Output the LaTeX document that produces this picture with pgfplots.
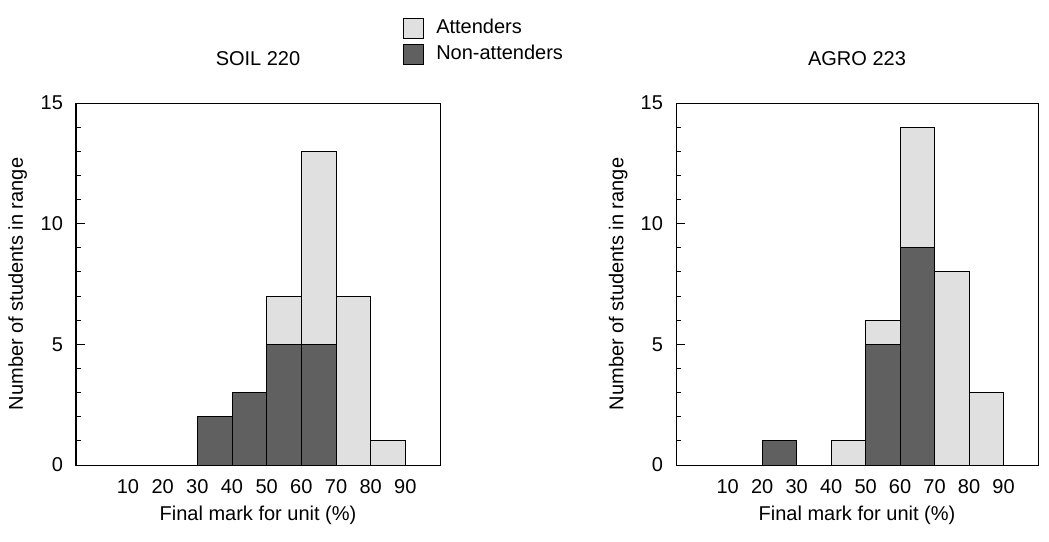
\documentclass[border=0pt]{standalone}
\usepackage{fontspec}
\setmainfont{Liberation Sans}
\usepackage{pgfplots}
\pgfplotsset{compat=1.18}
\definecolor{darkbar}{RGB}{96,96,96}
\definecolor{lightbar}{RGB}{224,224,224}
\pgfplotsset{
  histo/.style={
    scale only axis,
    height=181pt,
    ymin=0, ymax=15,
    xmin=-5, xmax=100,
    ybar stacked,
    bar width=10,
    bar shift=0pt,
    ytick={0,5,10,15},
    minor ytick={1,2,3,4,6,7,8,9,11,12,13,14},
    ytick pos=left,
    xtick={10,20,30,40,50,60,70,80,90},
    xtick style={draw=none},
    major tick length=4.5pt,
    minor tick length=2.5pt,
    tick style={black, line width=0.5pt},
    axis line style={line width=0.5pt},
    /pgf/number format/assume math mode=true,
    tick label style={font=\fontsize{10}{12}\selectfont},
    label style={font=\fontsize{10}{12}\selectfont},
    yticklabel style={xshift=-3pt},
    xticklabel style={yshift=-3.8pt},
    ylabel style={at={(axis description cs:-0.16,0.5)}, anchor=center},
    xlabel style={at={(axis description cs:0.5,-0.138)}, anchor=center},
    every axis title/.style={at={(axis description cs:0.5,1.1215)}, anchor=center, font=\fontsize{10}{12}\selectfont},
    ylabel={Number of students in range},
    xlabel={Final mark for unit (\%)},
    every axis plot/.append style={line width=0.5pt, draw=black},
  }
}
\begin{document}
\begin{tikzpicture}
\useasboundingbox (0,0) rectangle (524.5pt,-270.5pt);
\begin{axis}[histo,
  width=182pt,
  at={(38pt,-232.5pt)}, anchor=south west,
  title={SOIL 220},
  legend style={at={(axis description cs:0.898,1.243)}, anchor=north west,
    draw=none, fill=none, inner sep=0pt, row sep=0pt,
    font=\fontsize{10}{12}\selectfont,
    nodes={inner sep=2pt, text height=7.2pt, text depth=1.8pt},
    /tikz/every odd column/.append style={column sep=4pt}},
  legend cell align=left,
  legend image code/.code={\draw[#1, line width=0.5pt] (0pt,-5pt) rectangle (10pt,5pt);},
]
\addplot[fill=darkbar, forget plot] coordinates {(5,0) (15,0) (25,0) (35,2) (45,3) (55,5) (65,5) (75,0) (85,0) (95,0)};
\addplot[fill=lightbar, forget plot] coordinates {(5,0) (15,0) (25,0) (35,0) (45,0) (55,2) (65,8) (75,7) (85,1) (95,0)};
\addlegendimage{fill=lightbar, draw=black}
\addlegendentry{Attenders}
\addlegendimage{fill=darkbar, draw=black}
\addlegendentry{Non-attenders}
\end{axis}
\begin{axis}[histo,
  width=181pt,
  at={(338pt,-232.5pt)}, anchor=south west,
  title={AGRO 223},
]
\addplot[fill=darkbar] coordinates {(5,0) (15,0) (25,1) (35,0) (45,0) (55,5) (65,9) (75,0) (85,0) (95,0)};
\addplot[fill=lightbar] coordinates {(5,0) (15,0) (25,0) (35,0) (45,1) (55,1) (65,5) (75,8) (85,3) (95,0)};
\end{axis}
\end{tikzpicture}
\end{document}
